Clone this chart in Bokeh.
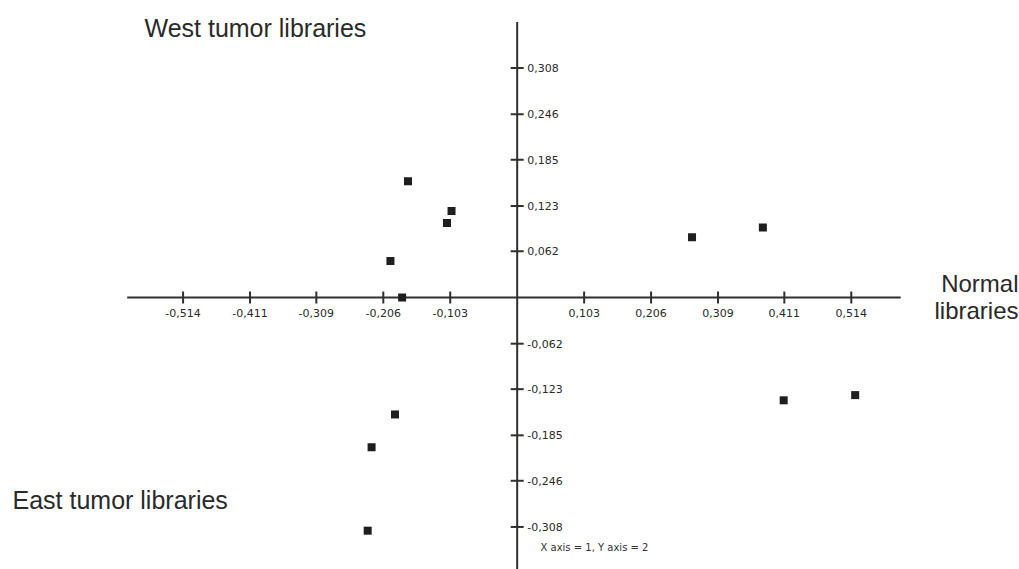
import math
from bokeh.plotting import figure
from bokeh.models import Range1d, Label
from bokeh.core.properties import value
from bokeh.embed import file_html
from bokeh.resources import INLINE

# Data
x_vals = [-0.168, -0.101, -0.108, -0.195, -0.177, 0.269, 0.378, 0.410, 0.520, -0.188, -0.224, -0.230]
y_vals = [0.156, 0.116, 0.100, 0.049, 0.000, 0.081, 0.094, -0.138, -0.131, -0.157, -0.201, -0.313]

x_ticks = [-0.514, -0.411, -0.309, -0.206, -0.103, 0.103, 0.206, 0.309, 0.411, 0.514]
x_tick_labels = ["-0,514", "-0,411", "-0,309", "-0,206", "-0,103", "0,103", "0,206", "0,309", "0,411", "0,514"]
y_ticks = [0.308, 0.246, 0.185, 0.123, 0.062, -0.062, -0.123, -0.185, -0.246, -0.308]
y_tick_labels = ["0,308", "0,246", "0,185", "0,123", "0,062", "-0,062", "-0,123", "-0,185", "-0,246", "-0,308"]

W, H = 1019, 569
p = figure(width=W, height=H, x_range=Range1d(-0.7949, 0.7728), y_range=Range1d(-0.3651, 0.3987),
           output_backend="svg", toolbar_location=None, min_border=0,
           x_axis_type=None, y_axis_type=None)
p.grid.visible = False
p.outline_line_color = None
p.background_fill_color = "white"
p.border_fill_color = "white"

axis_col = "#303030"
# axis lines
p.segment(x0=[-0.600, 0.0], y0=[0.0, 0.370], x1=[0.590, 0.0], y1=[0.0, -0.3651],
          line_color=axis_col, line_width=2)
# tick marks
p.scatter(x=x_ticks, y=[0.0] * len(x_ticks), marker="dash", size=12, angle=math.pi / 2,
          line_color=axis_col, line_width=2)
p.scatter(x=[0.0] * len(y_ticks), y=y_ticks, marker="dash", size=13,
          line_color=axis_col, line_width=2)
# tick labels
p.text(x=x_ticks, y=[0.0] * len(x_ticks), text=x_tick_labels, y_offset=15,
       text_align="center", text_baseline="middle", text_font=value("DejaVu Sans"),
       text_font_size="11px", text_color="#2a2a2a")
p.text(x=[0.0] * len(y_ticks), y=y_ticks, text=y_tick_labels, x_offset=10,
       text_align="left", text_baseline="middle", text_font=value("DejaVu Sans"),
       text_font_size="11px", text_color="#2a2a2a")

# points
p.scatter(x=x_vals, y=y_vals, marker="square", size=8, fill_color="#1e1e1e", line_color=None)

lab_col = "#2a2a2a"
font = "Liberation Sans"
p.add_layout(Label(x=144, y=H - 27, x_units="screen", y_units="screen", text="West tumor libraries",
                   text_font=font, text_font_size="25px", text_baseline="middle", text_color=lab_col))
p.add_layout(Label(x=1018, y=H - 283, x_units="screen", y_units="screen", text="Normal",
                   text_font=font, text_font_size="24px", text_baseline="middle", text_align="right",
                   text_color=lab_col))
p.add_layout(Label(x=1018, y=H - 310, x_units="screen", y_units="screen", text="libraries",
                   text_font=font, text_font_size="24px", text_baseline="middle", text_align="right",
                   text_color=lab_col))
p.add_layout(Label(x=12, y=H - 499, x_units="screen", y_units="screen", text="East tumor libraries",
                   text_font=font, text_font_size="25px", text_baseline="middle", text_color=lab_col))
p.add_layout(Label(x=540, y=H - 547, x_units="screen", y_units="screen", text="X axis = 1, Y axis = 2",
                   text_font="DejaVu Sans", text_font_size="10px", text_baseline="middle",
                   text_color="#333333"))

open("out.html", "w").write(file_html(p, INLINE))
